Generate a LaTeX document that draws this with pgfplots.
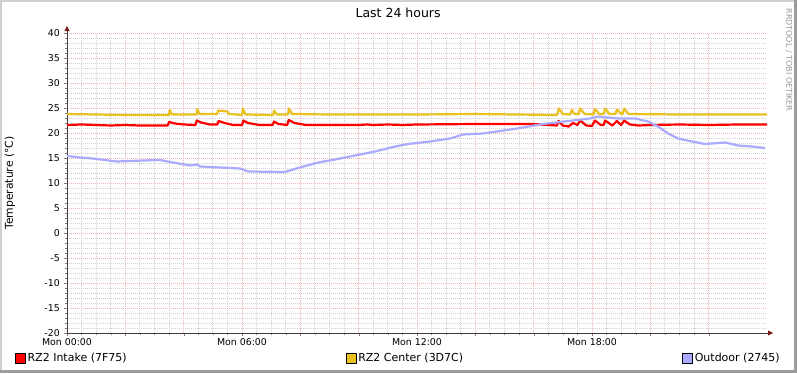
\documentclass[border=0pt]{standalone}
\usepackage{fontspec}
\setmainfont{DejaVu Sans}
\usepackage{pgfplots}
\pgfplotsset{compat=1.18}
\usetikzlibrary{arrows.meta}
\definecolor{intake}{HTML}{FF0000}
\definecolor{centerc}{HTML}{E9C21F}
\definecolor{outdoor}{HTML}{AAAAFF}
\definecolor{mgrid}{HTML}{F0B4B4}
\definecolor{sgrid}{HTML}{D2D2D2}
\definecolor{axcol}{HTML}{4A3A3A}
\definecolor{arrcol}{HTML}{7A1A1A}
\definecolor{frameLight}{HTML}{D0D0D0}
\definecolor{frameDark}{HTML}{9C9C9C}
\begin{document}
\begin{tikzpicture}
\fill[white] (-67pt,-40pt) rectangle (730pt,333pt);
\fill[frameLight] (-67pt,331pt) rectangle (730pt,333pt);
\fill[frameLight] (-67pt,-40pt) rectangle (-65pt,333pt);
\fill[frameDark] (-67pt,-40pt) rectangle (730pt,-37pt);
\fill[frameDark] (727pt,-40pt) rectangle (730pt,333pt);
\path[use as bounding box] (-67pt,-40pt) rectangle (730pt,333pt);
\begin{axis}[
  at={(0pt,0pt)}, anchor=south west,
  scale only axis, width=700pt, height=300pt,
  xmin=0, xmax=24, ymin=-20, ymax=40,
  axis lines=left,
  axis line style={axcol, line width=0.8pt},
  x axis line style={-{Triangle[length=5pt,width=5pt,color=arrcol]}, shorten >=-6pt},
  y axis line style={-{Triangle[length=5pt,width=5pt,color=arrcol]}, shorten >=-7pt},
  tick align=outside, tick pos=left,
  major tick length=3pt, minor tick length=2pt,
  xtick={0,2,...,22},
  xticklabels={Mon 00:00,,,Mon 06:00,,,Mon 12:00,,,Mon 18:00,,},
  minor x tick num=3,
  ytick={-20,-15,...,40},
  minor y tick num=4,
  grid=both,
  major grid style={mgrid, dash pattern=on 1pt off 1pt, line width=0.9pt},
  minor grid style={sgrid, dash pattern=on 1pt off 1pt, line width=0.9pt},
  /pgf/number format/assume math mode=true,
  ticklabel style={font=\fontsize{9.4}{11}\selectfont, text=black},
  yticklabel style={inner sep=0pt, xshift=-4pt},
  xticklabel style={inner sep=0pt, yshift=-2pt},
  title={Last 24 hours},
  title style={font=\fontsize{12.5}{14}\selectfont, at={(axis description cs:0.473,1.0467)}, anchor=center},
  ylabel={Temperature (°C)},
  ylabel style={font=\fontsize{10.8}{12}\selectfont, at={(axis description cs:-0.0814,0.5)}, anchor=center},
  legend columns=3,
  legend cell align=left,
  legend style={draw=none, fill=none, inner sep=0pt, outer sep=0pt,
    at={(axis description cs:-0.0743,-0.0833)}, anchor=west,
    font=\fontsize{11}{13}\selectfont,
    /tikz/every even column/.append style={column sep=217pt}},
]
\addplot[intake, line width=2.2pt, line join=round,
  legend image code/.code={\draw[draw=black, fill=intake, line width=0.6pt] (0pt,-5pt) rectangle (10pt,5pt);}]
coordinates {
(0,21.6)(0.5,21.7)(1,21.6)(1.5,21.5)(2,21.6)(2.5,21.5)(3,21.5)(3.45,21.5)(3.5,22.2)(3.7,21.9)(4.0,21.7)
(4.4,21.6)(4.45,22.5)(4.6,22.1)(4.9,21.7)(5.15,21.7)(5.2,22.4)(5.4,22.0)(5.7,21.6)(6.0,21.6)(6.05,22.5)
(6.2,22.0)(6.6,21.6)(7.05,21.6)(7.1,22.3)(7.25,21.8)(7.55,21.6)(7.6,22.6)(7.8,22.0)(8.2,21.6)(10,21.6)
(10.3,21.7)(10.5,21.6)(11.0,21.7)(11.5,21.6)(12,21.7)(14,21.8)(16,21.8)(16.5,21.6)(16.8,21.5)(16.85,22.4)
(17.0,21.5)(17.2,21.3)(17.35,22.0)(17.5,21.6)(17.6,22.5)(17.8,21.5)(18.0,21.4)(18.1,22.5)(18.3,21.6)
(18.4,21.6)(18.45,22.5)(18.7,21.5)(18.85,22.4)(19.0,21.6)(19.1,22.5)(19.3,21.7)(19.6,21.5)(20,21.6)
(21,21.7)(22,21.6)(23,21.7)(24,21.7)
};
\addlegendentry{RZ2 Intake (7F75)}
\addplot[centerc, line width=2.2pt, line join=round,
  legend image code/.code={\draw[draw=black, fill=centerc, line width=0.6pt] (0pt,-5pt) rectangle (10pt,5pt);}]
coordinates {
(0,23.8)(1,23.7)(2,23.6)(3,23.6)(3.5,23.6)(3.52,24.6)(3.6,23.7)(4.45,23.7)(4.46,24.8)(4.55,23.8)
(5.15,23.8)(5.18,24.5)(5.5,24.3)(5.55,23.8)(6.0,23.6)(6.03,24.9)(6.12,23.7)(7.07,23.6)(7.1,24.5)
(7.2,23.7)(7.58,23.7)(7.61,24.9)(7.72,23.8)(9,23.7)(12,23.7)(14,23.8)(16.8,23.6)(16.87,24.9)(17.0,23.8)
(17.25,23.7)(17.31,24.6)(17.4,23.8)(17.55,23.8)(17.59,24.9)(17.75,23.8)(18.05,23.7)(18.1,24.8)(18.25,23.8)
(18.4,23.8)(18.45,24.9)(18.6,23.8)(18.8,23.8)(18.86,24.7)(19.0,23.8)(19.05,23.8)(19.1,24.9)(19.25,23.8)
(21,23.7)(24,23.7)
};
\addlegendentry{RZ2 Center (3D7C)}
\addplot[outdoor, line width=2.2pt, line join=round,
  legend image code/.code={\draw[draw=black, fill=outdoor, line width=0.6pt] (0pt,-5pt) rectangle (10pt,5pt);}]
coordinates {
(0,15.4)(0.45,15.1)(0.89,14.9)(1.71,14.3)(2.61,14.5)(3.19,14.6)(3.53,14.2)(4.22,13.5)(4.46,13.7)
(4.56,13.3)(5.93,12.9)(6.21,12.3)(7.47,12.2)(7.92,13.0)(8.61,14.1)(9.19,14.7)(9.87,15.5)(10.56,16.3)
(11.25,17.3)(11.69,17.8)(12.45,18.3)(13.13,18.9)(13.58,19.7)(14.26,19.9)(15.09,20.6)(15.63,21.1)
(16.32,21.8)(16.90,22.2)(17.49,22.6)(17.93,22.9)(18.21,23.3)(18.89,22.9)(19.47,22.9)(19.92,22.3)
(20.26,21.3)(20.61,19.9)(20.95,18.9)(21.43,18.3)(21.87,17.8)(22.56,18.1)(23.01,17.5)(23.49,17.3)(23.93,17.0)
};
\addlegendentry{Outdoor (2745)}
\end{axis}
\node[rotate=-90, text=black!40, font=\fontsize{8}{9}\selectfont] at (722pt,273pt) {RRDTOOL / TOBI OETIKER};
\end{tikzpicture}
\end{document}
